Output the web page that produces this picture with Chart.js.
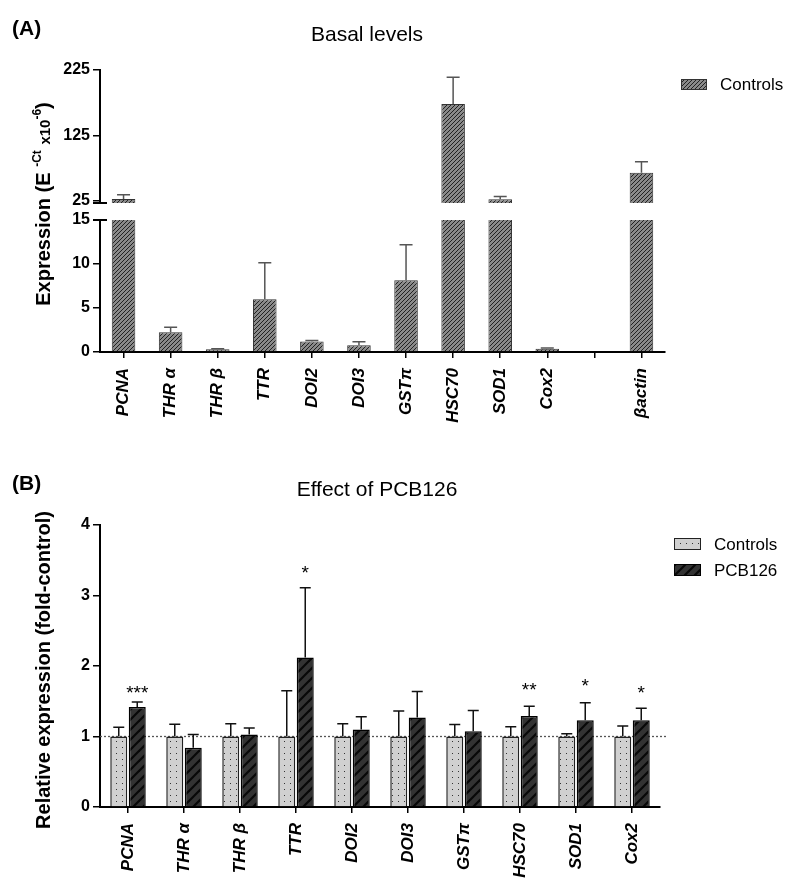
<!DOCTYPE html>
<html>
<head>
<meta charset="utf-8">
<script src="https://cdn.jsdelivr.net/npm/chart.js@4.4.1/dist/chart.umd.min.js"></script>
<style>
  body { margin: 0; background: #fff; font-family: "Liberation Sans", Arial, sans-serif; }
  #page { position: relative; width: 792px; height: 891px; overflow: hidden; }
  #page canvas { position: absolute; left: 0; top: 0; }
  .txt { position: absolute; white-space: nowrap; color: #000; line-height: 1; }
  .panel { font-weight: bold; font-size: 21px; }
  .ttl { font-size: 21px; transform: translateX(-50%); }
  .ytitle { font-weight: bold; font-size: 20px; transform: translate(-50%, -50%) rotate(-90deg); }
  .ytitle sup { font-size: 12px; line-height: 0; vertical-align: 9px; }
  .ytitle .sm { font-size: 15px; }
</style>
</head>
<body>
<div id="page">
  <canvas id="chartAtop" width="792" height="891"></canvas>
  <canvas id="chartAlow" width="792" height="891"></canvas>
  <canvas id="chartB" width="792" height="891"></canvas>

  <div class="txt panel" style="left:12px; top:17px;">(A)</div>
  <div class="txt ttl" style="left:367px; top:23px;">Basal levels</div>
  <div class="txt ytitle" style="left:43px; top:204px;">Expression (E <sup>-Ct</sup> <span class="sm">x10</span><sup>-6</sup>)</div>

  <div class="txt panel" style="left:12px; top:472px;">(B)</div>
  <div class="txt ttl" style="left:377px; top:478px;">Effect of PCB126</div>
  <div class="txt ytitle" style="left:43px; top:670px;">Relative expression (fold-control)</div>
</div>

<script>
// ---- data ----
// panel A: basal levels (E^-Ct x10^-6), one empty slot before beta-actin
const genesA = ['PCNA', 'THR α', 'THR β', 'TTR', 'DOI2', 'DOI3', 'GSTπ', 'HSC70', 'SOD1', 'Cox2', '', 'βactin'];
const basal = [28, 2.25, 0.3, 6.0, 1.2, 0.76, 8.15, 173, 27.6, 0.38, null, 68];
const basalErr = [34.5, 2.8, 0.36, 10.15, 1.3, 1.17, 12.2, 214, 32, 0.45, null, 85];
const ticksAtop = [25, 125, 225];
const ticksAlow = [0, 5, 10, 15];

// panel B: fold-control
const genesB = ['PCNA', 'THR α', 'THR β', 'TTR', 'DOI2', 'DOI3', 'GSTπ', 'HSC70', 'SOD1', 'Cox2'];
const controls = [1, 1, 1, 1, 1, 1, 1, 1, 1, 1];
const controlsErr = [1.13, 1.175, 1.18, 1.65, 1.18, 1.36, 1.17, 1.14, 1.04, 1.15];
const pcb126 = [1.42, 0.84, 1.03, 2.12, 1.10, 1.27, 1.075, 1.29, 1.23, 1.23];
const pcb126Err = [1.49, 1.03, 1.12, 3.11, 1.28, 1.64, 1.37, 1.43, 1.48, 1.40];
const sigMarks = ['***', '', '', '*', '', '', '', '**', '*', '*'];
const sigAt = [1.66, 0, 0, 3.36, 0, 0, 0, 1.70, 1.76, 1.66];
const ticksB = [0, 1, 2, 3, 4];
const refLevel = 1;

const FONT = '"Liberation Sans", Arial, sans-serif';
Chart.defaults.font.family = FONT;
Chart.defaults.color = '#000';

// ---- fill patterns ----
function makePattern(w, h, bg, draw) {
  const c = document.createElement('canvas');
  c.width = w; c.height = h;
  const g = c.getContext('2d');
  g.fillStyle = bg;
  g.fillRect(0, 0, w, h);
  draw(g);
  return g.createPattern(c, 'repeat');
}
const hatchA = makePattern(4, 4, '#8a8a8a', g => {
  g.fillStyle = '#222';
  for (let i = 0; i < 4; i++) g.fillRect(i, 3 - i, 1, 1);
});
const dotsB = makePattern(6, 6, '#d0d0d0', g => {
  g.fillStyle = '#333';
  g.fillRect(2, 3, 1, 1);
});
const hatchB = makePattern(10, 10, '#333333', g => {
  g.strokeStyle = '#080808';
  g.lineWidth = 2.2;
  [[0, 10, 10, 0], [-2, 2, 2, -2], [8, 12, 12, 8]].forEach(l => {
    g.beginPath(); g.moveTo(l[0], l[1]); g.lineTo(l[2], l[3]); g.stroke();
  });
});

// ---- plugins ----
const errorBars = {
  id: 'errorBars',
  afterDatasetsDraw(chart, args, o) {
    const ctx = chart.ctx, ys = chart.scales.y;
    chart.data.datasets.forEach((ds, di) => {
      if (!ds.errTop) return;
      chart.getDatasetMeta(di).data.forEach((bar, i) => {
        const v = ds.data[i], e = ds.errTop[i];
        if (v == null || e == null) return;
        if (v > ys.max || e < ys.min) return;
        const y0 = ys.getPixelForValue(Math.max(v, ys.min));
        const y1 = ys.getPixelForValue(e);
        ctx.save();
        ctx.strokeStyle = o.color || '#000';
        ctx.lineWidth = o.width || 1.5;
        ctx.beginPath();
        ctx.moveTo(bar.x, y0); ctx.lineTo(bar.x, y1);
        ctx.moveTo(bar.x - o.cap / 2, y1); ctx.lineTo(bar.x + o.cap / 2, y1);
        ctx.stroke();
        ctx.restore();
      });
    });
  }
};

const boxLegend = {
  id: 'boxLegend',
  afterDraw(chart, args, o) {
    if (o.x == null) return;
    const ctx = chart.ctx;
    chart.data.datasets.forEach((ds, i) => {
      const top = o.y + i * o.gap;
      ctx.save();
      ctx.fillStyle = ds.backgroundColor;
      ctx.fillRect(o.x, top, o.w, o.h);
      ctx.strokeStyle = ds.borderColor;
      ctx.lineWidth = 1;
      ctx.strokeRect(o.x + 0.5, top + 0.5, o.w - 1, o.h - 1);
      ctx.fillStyle = '#000';
      ctx.font = '17px ' + FONT;
      ctx.textBaseline = 'middle';
      ctx.fillText(ds.label, o.x + o.w + 13, top + o.h / 2 + 1);
      ctx.restore();
    });
  }
};

const breakCap = {
  id: 'breakCap',
  afterDraw(chart, args, o) {
    if (!o.edge) return;
    const a = chart.chartArea, ctx = chart.ctx;
    const y = o.edge === 'bottom' ? a.bottom : a.top;
    ctx.save();
    ctx.strokeStyle = '#000';
    ctx.lineWidth = 2;
    ctx.beginPath();
    ctx.moveTo(a.left - 7, y); ctx.lineTo(a.left + 7, y);
    ctx.stroke();
    ctx.restore();
  }
};

const refLine = {
  id: 'refLine',
  beforeDatasetsDraw(chart, args, o) {
    if (o.value == null) return;
    const a = chart.chartArea, ctx = chart.ctx;
    const y = chart.scales.y.getPixelForValue(o.value);
    ctx.save();
    ctx.strokeStyle = '#555';
    ctx.lineWidth = 1.3;
    ctx.setLineDash([2, 2]);
    ctx.beginPath();
    ctx.moveTo(a.left, y); ctx.lineTo(a.right + 6, y);
    ctx.stroke();
    ctx.restore();
  }
};

const sigStars = {
  id: 'sigStars',
  afterDatasetsDraw(chart, args, o) {
    if (!o.marks) return;
    const ctx = chart.ctx, ys = chart.scales.y;
    const meta = chart.getDatasetMeta(1);
    ctx.save();
    ctx.fillStyle = '#000';
    ctx.font = '19px ' + FONT;
    ctx.textAlign = 'center';
    ctx.textBaseline = 'middle';
    o.marks.forEach((m, i) => {
      if (!m) return;
      ctx.fillText(m, meta.data[i].x, ys.getPixelForValue(o.at[i]) + 4);
    });
    ctx.restore();
  }
};

// ---- axes helpers ----
function fixBox(size) {
  return function (scale) {
    if (scale.isHorizontal()) scale.height = size; else scale.width = size;
    scale.paddingTop = scale.paddingBottom = scale.paddingLeft = scale.paddingRight = 0;
  };
}
function yAxis(min, max, tickVals) {
  return {
    min: min, max: max,
    afterBuildTicks: s => { s.ticks = tickVals.map(v => ({ value: v })); },
    afterFit: fixBox(100),
    border: { display: true, color: '#000', width: 2 },
    grid: { drawOnChartArea: false, tickLength: 7, color: '#000', lineWidth: 1.5 },
    ticks: { padding: 3, color: '#000', font: { size: 16, weight: 'bold' } }
  };
}
function xAxis(height) {
  return {
    afterFit: fixBox(height),
    border: { display: true, color: '#000', width: 2 },
    grid: { offset: false, drawOnChartArea: false, tickLength: 6, color: '#000', lineWidth: 1.5 },
    ticks: {
      minRotation: 90, maxRotation: 90, autoSkip: false, padding: 10, color: '#000',
      font: { size: 17, weight: 'bold', style: 'italic' }
    }
  };
}

const common = {
  responsive: false,
  animation: false,
  devicePixelRatio: 1,
  events: []
};

function basalDataset() {
  return {
    label: 'Controls',
    data: basal,
    errTop: basalErr,
    backgroundColor: hatchA,
    borderColor: '#333',
    borderWidth: 1,
    barPercentage: 0.5,
    categoryPercentage: 1,
    clip: 0
  };
}

// panel A, upper segment of broken axis
new Chart(document.getElementById('chartAtop'), {
  type: 'bar',
  data: { labels: genesA, datasets: [basalDataset()] },
  options: Object.assign({}, common, {
    layout: { padding: { left: 0, top: 70, right: 127, bottom: 688 } },
    scales: { x: { display: false }, y: yAxis(22, 225, ticksAtop) },
    plugins: {
      legend: { display: false }, tooltip: { enabled: false },
      errorBars: { color: '#555', width: 1.5, cap: 13 },
      boxLegend: { x: 681, y: 79, w: 26, h: 11, gap: 26 },
      breakCap: { edge: 'bottom' }
    }
  }),
  plugins: [errorBars, boxLegend, breakCap]
});

// panel A, lower segment
new Chart(document.getElementById('chartAlow'), {
  type: 'bar',
  data: { labels: genesA, datasets: [basalDataset()] },
  options: Object.assign({}, common, {
    layout: { padding: { left: 0, top: 220, right: 127, bottom: 449 } },
    scales: { x: xAxis(90), y: yAxis(0, 15, ticksAlow) },
    plugins: {
      legend: { display: false }, tooltip: { enabled: false },
      errorBars: { color: '#555', width: 1.5, cap: 13 },
      breakCap: { edge: 'top' }
    }
  }),
  plugins: [errorBars, breakCap]
});

// panel B
new Chart(document.getElementById('chartB'), {
  type: 'bar',
  data: {
    labels: genesB,
    datasets: [
      {
        label: 'Controls', data: controls, errTop: controlsErr,
        backgroundColor: dotsB, borderColor: '#222', borderWidth: 1.5,
        barPercentage: 0.92, categoryPercentage: 0.66, clip: 0
      },
      {
        label: 'PCB126', data: pcb126, errTop: pcb126Err,
        backgroundColor: hatchB, borderColor: '#000', borderWidth: 1.5,
        barPercentage: 0.92, categoryPercentage: 0.66, clip: 0
      }
    ]
  },
  options: Object.assign({}, common, {
    layout: { padding: { left: 0, top: 525, right: 132, bottom: 0 } },
    scales: { x: xAxis(84), y: yAxis(0, 4, ticksB) },
    plugins: {
      legend: { display: false }, tooltip: { enabled: false },
      errorBars: { color: '#111', width: 1.5, cap: 11 },
      boxLegend: { x: 674, y: 538, w: 27, h: 12, gap: 26 },
      refLine: { value: refLevel },
      sigStars: { marks: sigMarks, at: sigAt }
    }
  }),
  plugins: [refLine, errorBars, sigStars, boxLegend]
});
</script>
</body>
</html>
